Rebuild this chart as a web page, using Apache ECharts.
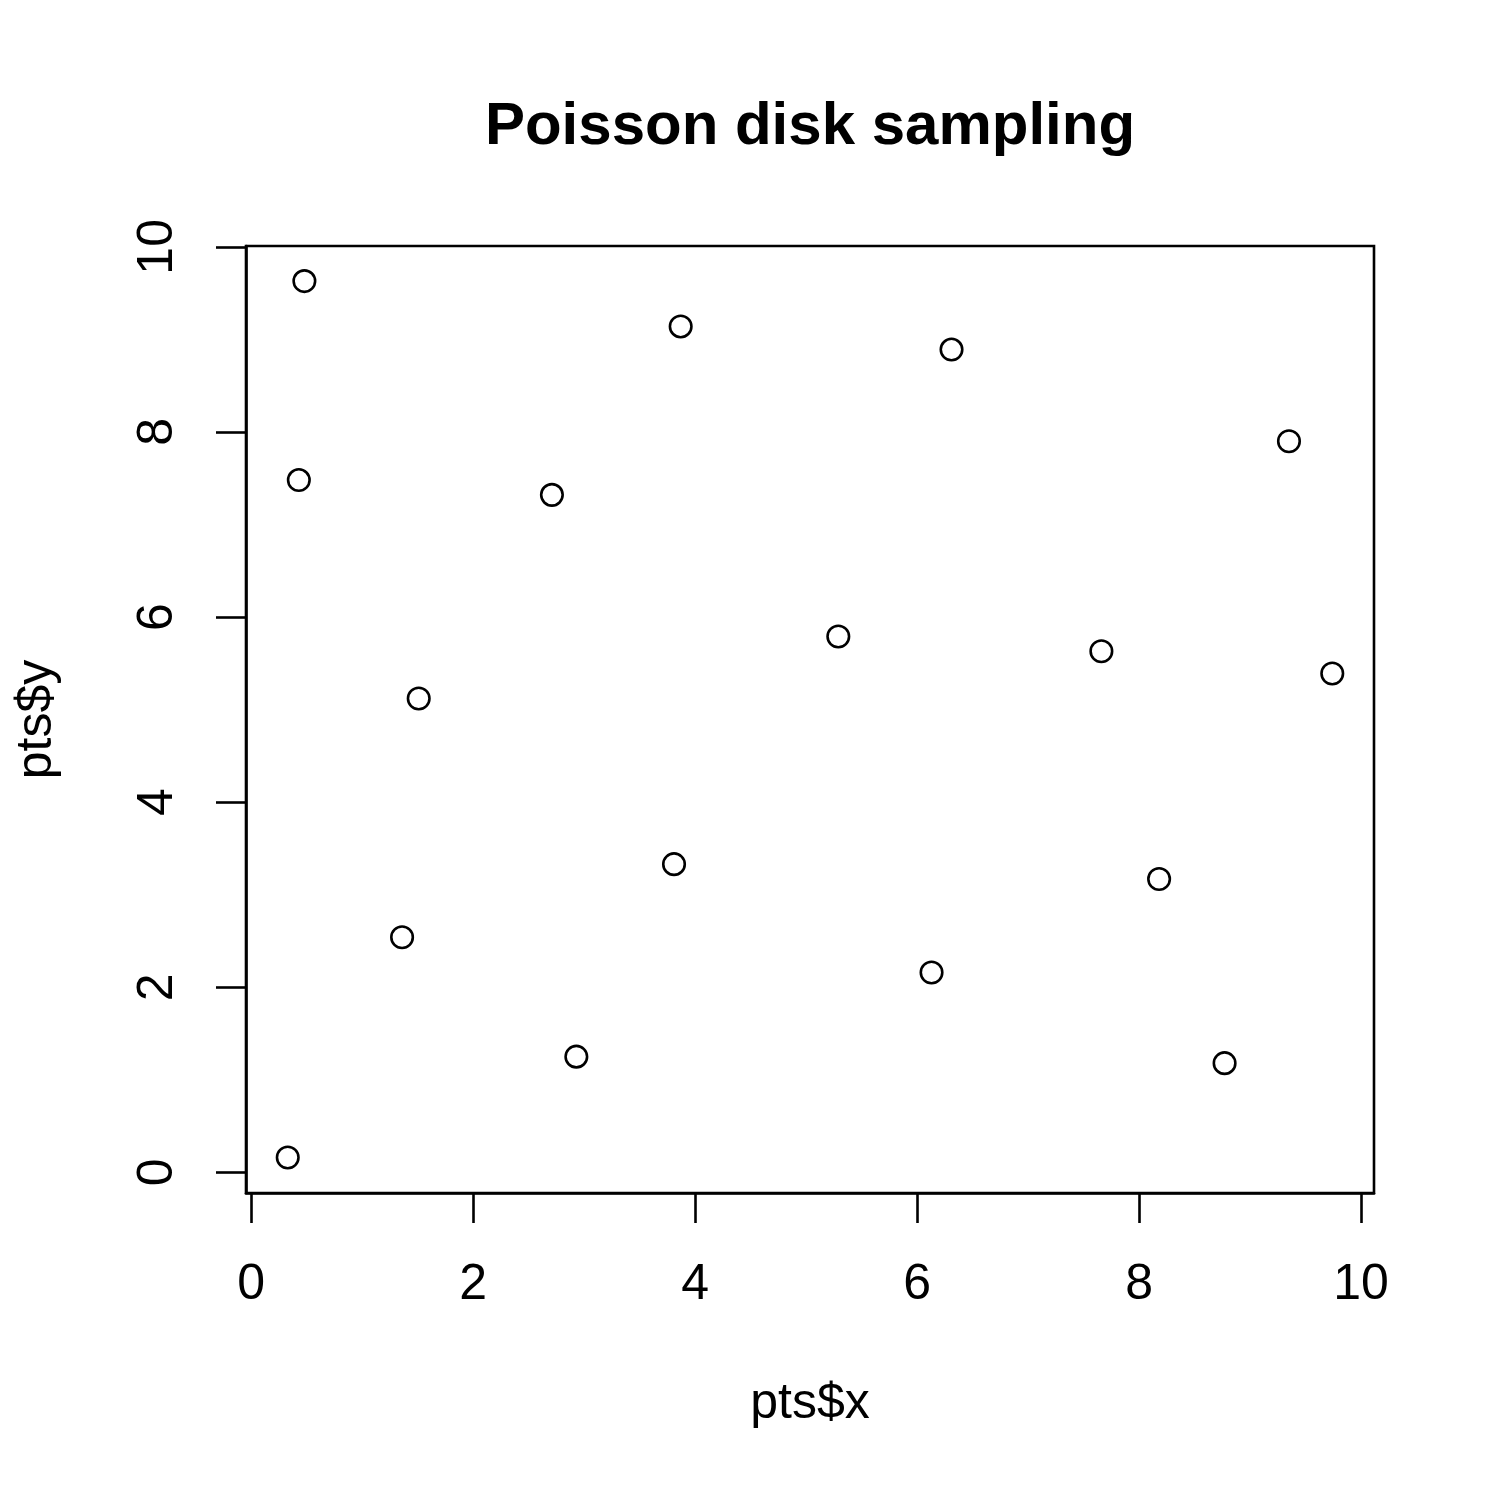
<!DOCTYPE html>
<html>
<head>
<meta charset="utf-8">
<script src="https://cdn.jsdelivr.net/npm/echarts@6/dist/echarts.min.js"></script>
<style>
  html, body { margin: 0; padding: 0; background: #fff; }
  #chart { width: 1500px; height: 1500px; }
</style>
</head>
<body>
<div id="chart"></div>
<script>
// points
const xs = [0.48, 0.43, 0.33, 1.36, 1.51, 2.71, 2.93, 3.87, 3.81, 5.29, 6.31, 6.13, 7.66, 8.18, 8.77, 9.35, 9.74];
const ys = [9.63, 7.48, 0.16, 2.54, 5.12, 7.32, 1.25, 9.14, 3.33, 5.79, 8.89, 2.16, 5.63, 3.17, 1.18, 7.90, 5.39];
const xTicks = [0, 2, 4, 6, 8, 10];
const yTicks = [0, 2, 4, 6, 8, 10];

const font = "'Liberation Sans', Arial, sans-serif";
const points = xs.map((x, i) => [x, ys[i]]);

const chart = echarts.init(document.getElementById("chart"), null, { renderer: "canvas" });

chart.setOption({
  backgroundColor: "#fff",
  animation: false,
  graphic: [
    {
      type: "text",
      x: 810,
      y: 127,
      style: {
        text: "Poisson disk sampling",
        font: "bold 60px " + font,
        fill: "#000",
        align: "center",
        verticalAlign: "middle",
      },
    },
  ],
  grid: {
    left: 246,
    top: 246,
    width: 1128,
    height: 947,
    show: true,
    borderColor: "#000",
    borderWidth: 2.6,
    backgroundColor: "transparent",
    containLabel: false,
    outerBoundsMode: "none",
  },
  xAxis: {
    type: "value",
    min: -0.046,
    max: 10.116,
    name: "pts$x",
    nameLocation: "middle",
    nameGap: 186,
    nameTextStyle: { fontFamily: font, fontSize: 50, color: "#000" },
    splitLine: { show: false },
    axisLine: { show: true, onZero: false, lineStyle: { color: "#000", width: 2.6 } },
    axisTick: {
      show: true,
      customValues: xTicks,
      length: 30,
      lineStyle: { color: "#000", width: 2.6 },
    },
    axisLabel: {
      customValues: xTicks,
      margin: 67,
      fontFamily: font,
      fontSize: 50,
      color: "#000",
    },
  },
  yAxis: {
    type: "value",
    min: -0.223,
    max: 10.009,
    name: "pts$y",
    nameLocation: "middle",
    nameGap: 184,
    nameTextStyle: { fontFamily: font, fontSize: 50, color: "#000" },
    splitLine: { show: false },
    axisLine: { show: true, onZero: false, lineStyle: { color: "#000", width: 2.6 } },
    axisTick: {
      show: true,
      customValues: yTicks,
      length: 30,
      lineStyle: { color: "#000", width: 2.6 },
    },
    axisLabel: {
      customValues: yTicks,
      rotate: 90,
      margin: 63,
      fontFamily: font,
      fontSize: 50,
      color: "#000",
    },
  },
  series: [
    {
      type: "scatter",
      data: points,
      symbol: "circle",
      symbolSize: 21.5,
      itemStyle: { color: "#fff", borderColor: "#000", borderWidth: 2.6, opacity: 1 },
      silent: true,
    },
  ],
});
</script>
</body>
</html>
